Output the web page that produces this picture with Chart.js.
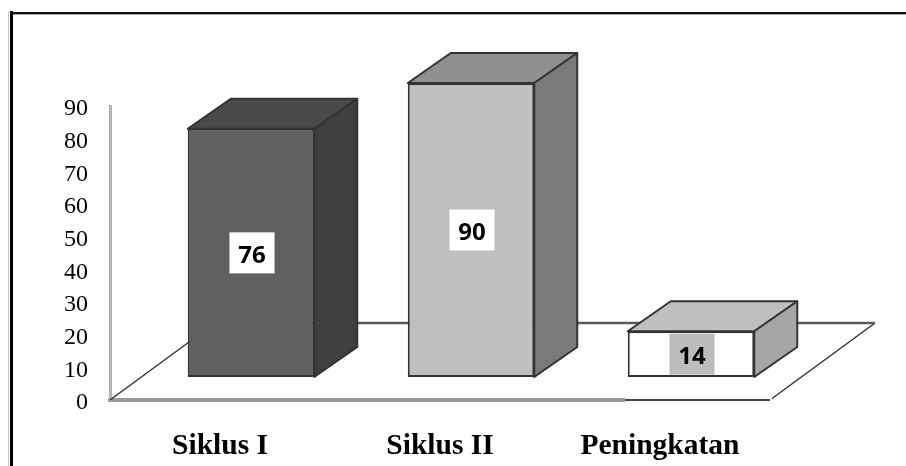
<!DOCTYPE html>
<html>
<head>
<meta charset="utf-8">
<style>
  html, body { margin: 0; padding: 0; background: #fff; }
  canvas { display: block; }
</style>
<script src="https://cdn.jsdelivr.net/npm/chart.js@4"></script>
</head>
<body>
<canvas id="chart" width="906" height="466"></canvas>
<script>
// data
const categories = ['Siklus I', 'Siklus II', 'Peningkatan'];
const values = [76, 90, 14];
const yMax = 90;
const yStep = 10;

// bar colours
const frontColors = ['#606060', '#bfbfbf', '#ffffff'];
const topColors = ['#4a4a4a', '#909090', '#bfbfbf'];
const sideColors = ['#3f3f3f', '#7a7a7a', '#a6a6a6'];
const labelBoxColors = ['#ffffff', '#ffffff', '#bdbdbd'];

// fake 3d: bars sit on the floor, shifted from the axis origin
const shiftX = 31, shiftY = -23;
const depthX = 43, depthY = 30;
const floorX = 105, floorY = 77;

function poly(ctx, pts, fill, stroke, lw) {
  ctx.beginPath();
  pts.forEach((p, i) => i ? ctx.lineTo(p[0], p[1]) : ctx.moveTo(p[0], p[1]));
  ctx.closePath();
  if (fill) { ctx.fillStyle = fill; ctx.fill(); }
  if (stroke) { ctx.strokeStyle = stroke; ctx.lineWidth = lw; ctx.lineJoin = 'round'; ctx.stroke(); }
}

const bars3d = {
  id: 'bars3d',
  beforeDraw(chart) {
    const ctx = chart.ctx;
    ctx.save();
    // picture frame
    ctx.fillStyle = '#c8c8c8';
    ctx.fillRect(8, 11, 1, 455);
    ctx.fillStyle = '#000';
    ctx.fillRect(10, 11, 3, 455);
    ctx.fillStyle = '#111';
    ctx.fillRect(10, 12, 896, 2);
    ctx.fillStyle = '#aaa';
    ctx.fillRect(13, 14, 893, 1);
    ctx.restore();
  },
  beforeDatasetsDraw(chart) {
    const ctx = chart.ctx, a = chart.chartArea;
    ctx.save();
    // floor outline
    ctx.strokeStyle = '#333';
    ctx.lineWidth = 1.5;
    ctx.beginPath();
    ctx.moveTo(a.left, a.bottom);
    ctx.lineTo(a.left + floorX, a.bottom - floorY);
    ctx.moveTo(a.right + floorX, a.bottom - floorY);
    ctx.lineTo(a.right, a.bottom);
    ctx.stroke();
    ctx.strokeStyle = '#5a5a5a';
    ctx.lineWidth = 2.5;
    ctx.beginPath();
    ctx.moveTo(a.left + floorX, a.bottom - floorY);
    ctx.lineTo(a.right + floorX, a.bottom - floorY);
    ctx.stroke();
    // right part of the front edge is thinner and darker
    ctx.fillStyle = '#fff';
    ctx.fillRect(625, a.bottom - 2, a.right - 625 + 2, 4);
    ctx.strokeStyle = '#444';
    ctx.lineWidth = 2;
    ctx.beginPath();
    ctx.moveTo(625, a.bottom);
    ctx.lineTo(a.right, a.bottom);
    ctx.stroke();
    ctx.restore();
  },
  beforeDatasetDraw(chart, args) {
    const ctx = chart.ctx;
    ctx.save();
    ctx.translate(shiftX, shiftY);
    args.meta.data.forEach((bar, i) => {
      const p = bar.getProps(['x', 'y', 'base', 'width'], true);
      const l = p.x - p.width / 2, r = p.x + p.width / 2;
      poly(ctx, [[l, p.y], [r, p.y], [r + depthX, p.y - depthY], [l + depthX, p.y - depthY]], topColors[i], '#333', 2);
      poly(ctx, [[r, p.y], [r + depthX, p.y - depthY], [r + depthX, p.base - depthY], [r, p.base]], sideColors[i], '#333', 2);
    });
  },
  afterDatasetDraw(chart) {
    chart.ctx.restore();
  },
  afterDatasetsDraw(chart) {
    const ctx = chart.ctx;
    const meta = chart.getDatasetMeta(0);
    ctx.save();
    ctx.font = 'bold 24px "Noto Sans"';
    ctx.textAlign = 'center';
    ctx.textBaseline = 'middle';
    meta.data.forEach((bar, i) => {
      const p = bar.getProps(['x', 'y', 'base'], true);
      const cx = p.x + shiftX + 1;
      const cy = (p.y + p.base) / 2 + shiftY;
      ctx.fillStyle = labelBoxColors[i];
      ctx.fillRect(cx - 22.5, cy - 20.5, 45, 41);
      ctx.fillStyle = '#000';
      ctx.fillText(String(values[i]), cx, cy + 3);
    });
    ctx.restore();
  }
};

new Chart(document.getElementById('chart').getContext('2d'), {
  type: 'bar',
  data: {
    labels: categories,
    datasets: [{
      data: values,
      backgroundColor: frontColors,
      borderColor: '#333',
      borderWidth: 2,
      borderSkipped: false,
      clip: false,
      barPercentage: 0.575,
      categoryPercentage: 1
    }]
  },
  options: {
    responsive: false,
    animation: false,
    layout: { padding: { left: 0, right: 136, top: 106, bottom: 0 } },
    plugins: { legend: { display: false }, tooltip: { enabled: false } },
    scales: {
      x: {
        afterFit(scale) { scale.height = 66; },
        grid: { display: false, drawTicks: false },
        border: { color: '#9a9a9a', width: 4 },
        ticks: {
          color: '#000',
          padding: 29,
          maxRotation: 0,
          font: { family: '"Liberation Serif"', size: 29.5, weight: 'bold' }
        }
      },
      y: {
        min: 0,
        max: yMax,
        afterFit(scale) { scale.width = 110; },
        grid: { display: false, drawTicks: false },
        border: { color: '#b4b4b4', width: 3 },
        ticks: {
          stepSize: yStep,
          color: '#000',
          padding: 22,
          labelOffset: 3,
          font: { family: '"Liberation Serif"', size: 24 }
        }
      }
    }
  },
  plugins: [bars3d]
});
</script>
</body>
</html>
